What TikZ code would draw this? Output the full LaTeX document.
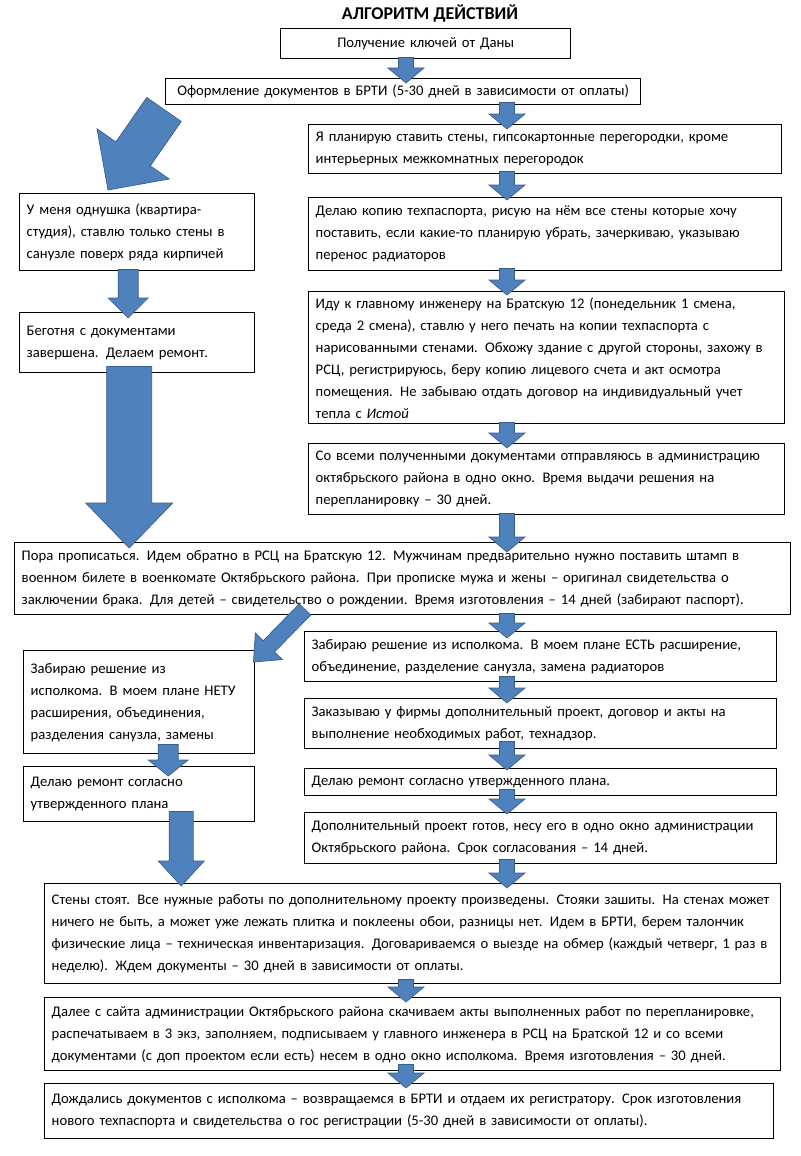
\documentclass[tikz,border=0pt]{standalone}
\usepackage{fontspec}
\setmainfont{Carlito}
\usetikzlibrary{calc}
\definecolor{arrowfill}{RGB}{79,129,189}
\definecolor{arrowline}{RGB}{56,93,138}

% block arrow: tail, tip, shaft width, head width, head length (px)
\newcommand\barrow[5]{%
  \coordinate (ta) at #1;
  \coordinate (tb) at #2;
  \coordinate (hb) at ($(tb)!#5*0.75pt!(ta)$);
  \filldraw[blockarrow] ($(ta)!#3*0.375pt!90:(tb)$) -- ($(hb)!#3*0.375pt!90:(tb)$)
    -- ($(hb)!#4*0.375pt!90:(tb)$) -- (tb) -- ($(hb)!#4*0.375pt!-90:(tb)$)
    -- ($(hb)!#3*0.375pt!-90:(tb)$) -- ($(ta)!#3*0.375pt!-90:(tb)$) -- cycle;
}

\begin{document}
\begin{tikzpicture}[
  x=0.75pt, y=-0.75pt,
  font=\fontsize{11}{16.5}\selectfont,
  box/.style 2 args={draw, line width=1.1pt, fill=white, anchor=north west,
                     align=left, inner xsep=5.25pt, inner ysep=1pt,
                     text width=(#1-14)*0.75pt, minimum height=#2*0.75pt},
  cbox/.style 2 args={box={#1}{#2}, align=center},
  blockarrow/.style={fill=arrowfill, draw=arrowline, line width=0.5pt, line join=miter}
]
\useasboundingbox (0,0) rectangle (800,1156);
\coordinate (colM) at (406,0);
\coordinate (colR) at (507,0);

\node[font=\bfseries\fontsize{13.5}{15}\selectfont] (title) at (430,14) {АЛГОРИТМ ДЕЙСТВИЙ};
\node[cbox={290}{30}] (b1) at (280,28) {Получение ключей от Даны};
\node[cbox={475}{26}] (b2) at (165,78)
  {Оформление документов в БРТИ (5-30 дней в зависимости от оплаты)};
\node[box={473}{49}] (b3) at (308,124)
  {Я планирую ставить стены, гипсокартонные перегородки, кроме\\
   интерьерных межкомнатных перегородок};
\node[box={473}{73}] (b4) at (308,197)
  {Делаю копию техпаспорта, рисую на нём все стены которые хочу\\
   поставить, если какие-то планирую убрать, зачеркиваю, указываю\\
   перенос радиаторов};
\node[box={476}{132}] (b5) at (308,291)
  {Иду к главному инженеру на Братскую 12 (понедельник 1 смена,\\
   среда 2 смена), ставлю у него печать на копии техпаспорта с\\
   нарисованными стенами. Обхожу здание с другой стороны, захожу в\\
   РСЦ, регистрируюсь, беру копию лицевого счета и акт осмотра\\
   помещения. Не забываю отдать договор на индивидуальный учет\\
   тепла с \textit{Истой}};
\node[box={476}{71}] (b6) at (308,443)
  {Со всеми полученными документами отправляюсь в администрацию\\
   октябрьского района в одно окно. Время выдачи решения на\\
   перепланировку -- 30 дней.};
\node[box={235}{77}] (l1) at (19,193)
  {У меня однушка (квартира-\\
   студия), ставлю только стены в\\
   санузле поверх ряда кирпичей};
\node[box={235}{60}] (l2) at (19,312)
  {Беготня с документами\\
   завершена. Делаем ремонт.};
\node[box={776}{72}] (b7) at (14,542)
  {Пора прописаться. Идем обратно в РСЦ на Братскую 12. Мужчинам предварительно нужно поставить штамп в\\
   военном билете в военкомате Октябрьского района. При прописке мужа и жены -- оригинал свидетельства о\\
   заключении брака. Для детей -- свидетельство о рождении. Время изготовления -- 14 дней (забирают паспорт).};
\node[box={472}{50}] (r1) at (304,631)
  {Забираю решение из исполкома. В моем плане ЕСТЬ расширение,\\
   объединение, разделение санузла, замена радиаторов};
\node[box={231}{103}] (l3) at (23,650)
  {Забираю решение из\\
   исполкома. В моем плане НЕТУ\\
   расширения, объединения,\\
   разделения санузла, замены};
\node[box={472}{50}] (r2) at (304,698)
  {Заказываю у фирмы дополнительный проект, договор и акты на\\
   выполнение необходимых работ, технадзор.};
\node[box={472}{27}] (r3) at (304,768)
  {Делаю ремонт согласно утвержденного плана.};
\node[box={231}{55}] (l4) at (23,766)
  {Делаю ремонт согласно\\
   утвержденного плана};
\node[box={472}{51}] (r4) at (304,812)
  {Дополнительный проект готов, несу его в одно окно администрации\\
   Октябрьского района. Срок согласования -- 14 дней.};
\node[box={736}{100}] (b8) at (44,883)
  {Стены стоят. Все нужные работы по дополнительному проекту произведены. Стояки зашиты. На стенах может\\
   ничего не быть, а может уже лежать плитка и поклеены обои, разницы нет. Идем в БРТИ, берем талончик\\
   физические лица -- техническая инвентаризация. Договариваемся о выезде на обмер (каждый четверг, 1 раз в\\
   неделю). Ждем документы -- 30 дней в зависимости от оплаты.};
\node[box={736}{73}] (b9) at (44,997)
  {Далее с сайта администрации Октябрьского района скачиваем акты выполненных работ по перепланировке,\\
   распечатываем в 3 экз, заполняем, подписываем у главного инженера в РСЦ на Братской 12 и со всеми\\
   документами (с доп проектом если есть) несем в одно окно исполкома. Время изготовления -- 30 дней.};
\node[box={729}{55}] (b10) at (44,1083)
  {Дождались документов с исполкома -- возвращаемся в БРТИ и отдаем их регистратору. Срок изготовления\\
   нового техпаспорта и свидетельства о гос регистрации (5-30 дней в зависимости от оплаты).};

% main column
\barrow{($(b1.south -| colM)+(0,-2)$)}{($(b2.north -| colM)+(0,5)$)}{15}{36}{15}
\barrow{($(b2.south -| colR)+(0,-3)$)}{($(b3.north -| colR)+(0,5)$)}{15}{36}{15}
\barrow{($(b3.south -| colR)+(0,-3)$)}{($(b4.north -| colR)+(0,3)$)}{15}{36}{15}
\barrow{($(b4.south -| colR)+(0,-3)$)}{($(b5.north -| colR)+(0,4)$)}{15}{36}{15}
\barrow{($(b5.south -| colR)+(0,-2)$)}{($(b6.north -| colR)+(0,5)$)}{15}{36}{15}
\barrow{($(b6.south -| colR)+(0,-2)$)}{($(b7.north -| colR)+(0,10)$)}{15}{36}{15}
\barrow{($(b7.south -| colR)+(0,-2)$)}{($(r1.north -| colR)+(0,7)$)}{15}{36}{15}
\barrow{($(r1.south -| colR)+(0,-6)$)}{($(r2.north -| colR)+(0,5)$)}{15}{36}{15}
\barrow{($(r2.south -| colR)+(0,-8)$)}{($(r3.north -| colR)+(0,2)$)}{15}{36}{15}
\barrow{($(r3.south -| colR)+(0,-7)$)}{($(r4.north -| colR)+(0,2)$)}{15}{36}{15}
\barrow{($(r4.south -| colR)+(0,-5)$)}{($(b8.north -| colR)+(0,5)$)}{15}{36}{15}
\barrow{($(b8.south -| colM)+(0,-5)$)}{($(b9.north -| colM)+(0,5)$)}{15}{36}{15}
\barrow{($(b9.south -| colM)+(0,-7)$)}{($(b10.north -| colM)+(0,5)$)}{15}{36}{15}
% left branch
\barrow{($(b2.south west)+(-1,4)$)}{($(l1.north west)+(89,-3)$)}{42}{88}{44}
\barrow{($(l1.south)+(-9,-2)$)}{($(l2.north)+(-9,6)$)}{20}{40}{20}
\barrow{($(l2.south)+(-8,-7)$)}{($(b7.north -| l2.south)+(-8,6)$)}{45}{87}{45}
\barrow{($(b7.south west)+(291,-6)$)}{($(l3.north east)+(-2,12)$)}{16}{38}{22}
\barrow{($(l3.south)+(29,-10)$)}{($(l4.north)+(29,10)$)}{20}{40}{16}
\barrow{($(l4.south)+(42,-11)$)}{($(b8.north -| l4.south)+(42,3)$)}{24}{46}{25}
\end{tikzpicture}
\end{document}
